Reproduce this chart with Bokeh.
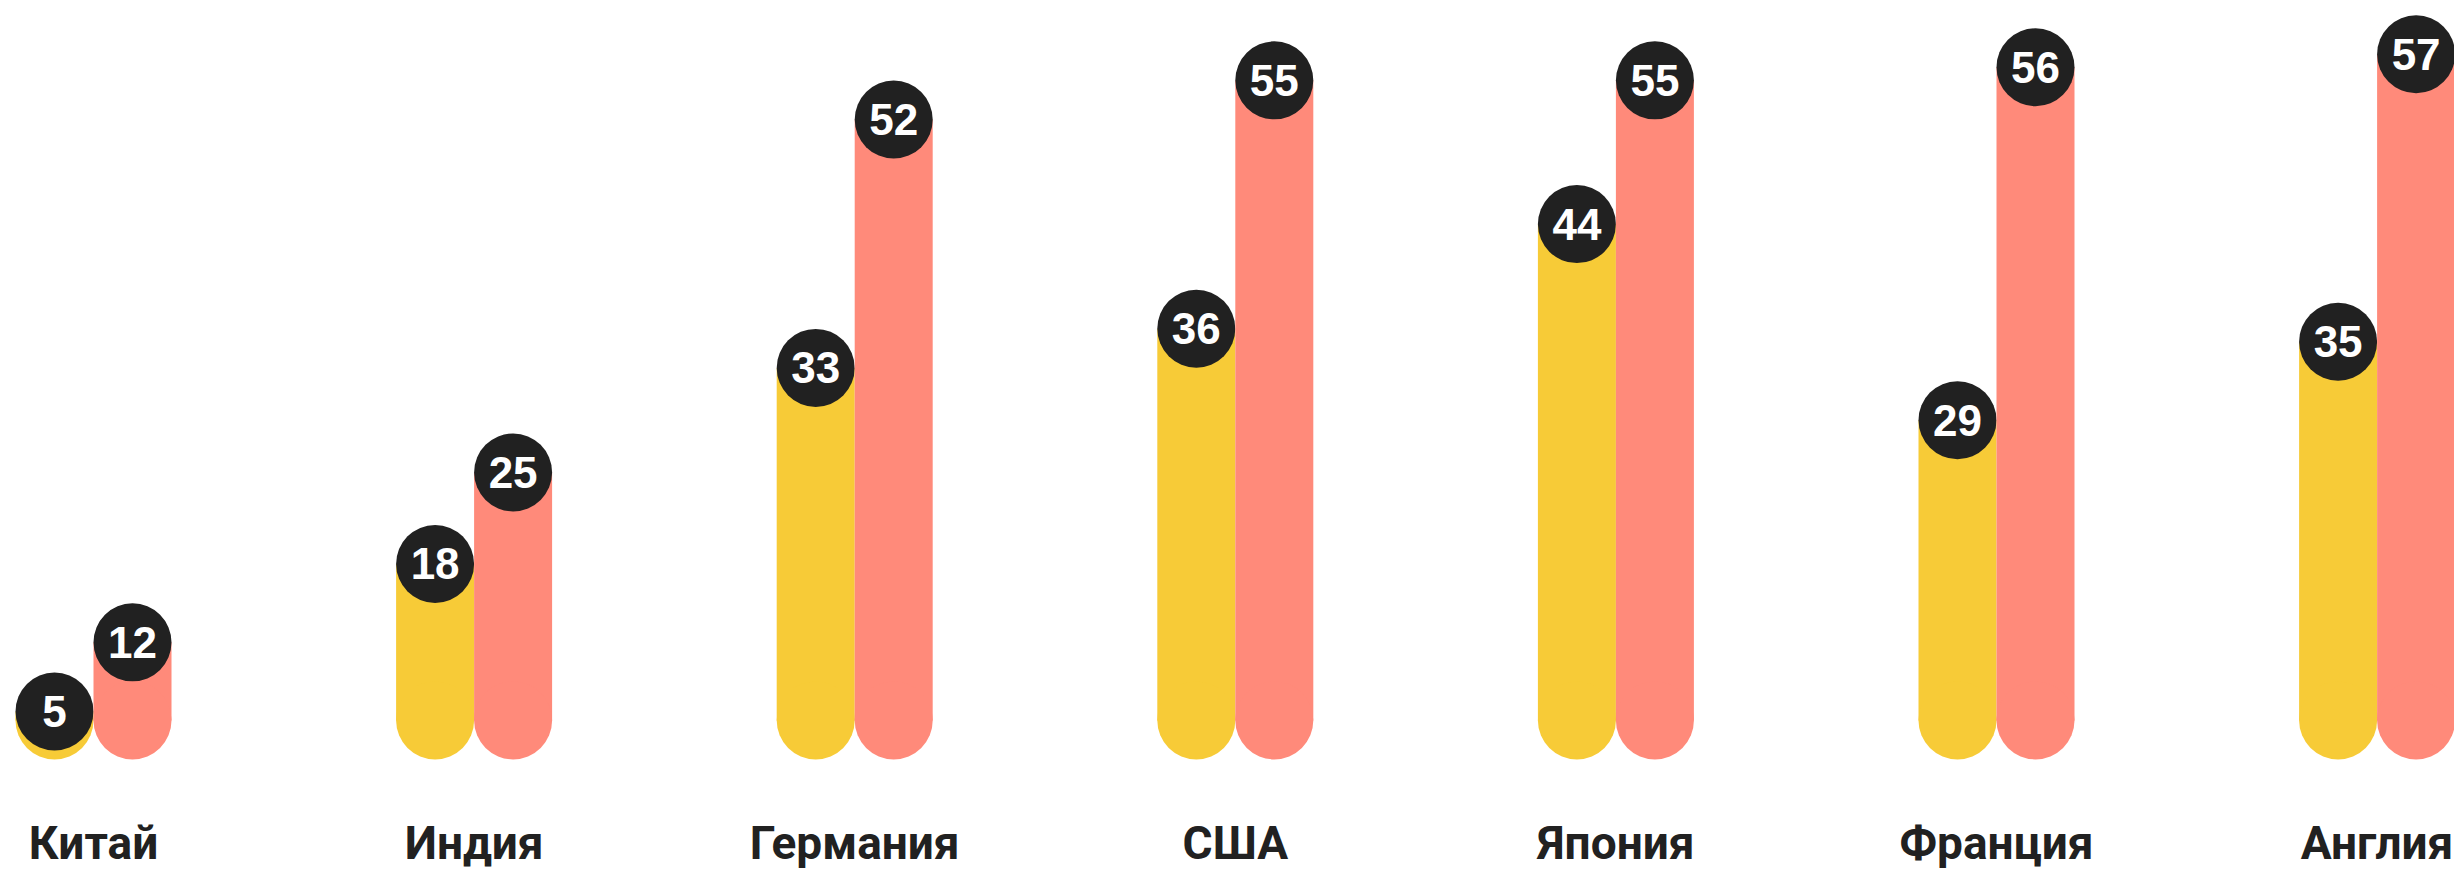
from bokeh.plotting import figure
from bokeh.models import Range1d, ColumnDataSource
from bokeh.core.properties import value
from bokeh.embed import file_html
from bokeh.resources import INLINE

countries = ["Китай", "Индия", "Германия", "США", "Япония", "Франция", "Англия"]
series_yellow = [5, 18, 33, 36, 44, 29, 35]
series_red = [12, 25, 52, 55, 55, 56, 57]

YELLOW = "#F7CB37"
RED = "#FF8A7A"
DARK = "#212121"

W, H = 2454, 870
GROUP_PX = 380.6       # pixels between groups
BAR_PX = 78            # bar width in pixels
PX_PER_UNIT = 13.07    # vertical pixels per value unit

x_start = -93.0 / GROUP_PX
x_end = x_start + W / GROUP_PX
y_end = 798.7 / PX_PER_UNIT
y_start = y_end - H / PX_PER_UNIT

bw = BAR_PX / GROUP_PX
BASE = 6.03      # centre of the rounded bottom cap
MIN_TOP = 6.71   # lowest position of a value badge
LABEL_Y = -3.36  # baseline of the country names

p = figure(width=W, height=H, output_backend="svg", toolbar_location=None,
           x_range=Range1d(x_start, x_end), y_range=Range1d(y_start, y_end),
           min_border=0, outline_line_color=None)
p.axis.visible = False
p.grid.visible = False
p.background_fill_color = "white"
p.border_fill_color = "white"

idx = list(range(len(countries)))
for vals, color, off in ((series_yellow, YELLOW, -bw / 2), (series_red, RED, bw / 2)):
    xs = [i + off for i in idx]
    tops = [max(v, MIN_TOP) for v in vals]
    src = ColumnDataSource(dict(x=xs, top=tops, base=[BASE] * len(xs),
                                label=[str(v) for v in vals]))
    p.vbar(x="x", top="top", bottom="base", width=bw, source=src,
           fill_color=color, line_color=None)
    p.scatter(x="x", y="base", size=BAR_PX, source=src, marker="circle",
              fill_color=color, line_color=None)
    p.scatter(x="x", y="top", size=BAR_PX, source=src, marker="circle",
              fill_color=DARK, line_color=None)
    p.text(x="x", y="top", text="label", source=src, text_color="white",
           text_font=value("Liberation Sans"), text_font_style="bold",
           text_font_size="44px", text_align="center", text_baseline="middle")

lsrc = ColumnDataSource(dict(x=idx, y=[LABEL_Y] * len(idx), t=countries))
p.text(x="x", y="y", text="t", source=lsrc, text_color=DARK,
       text_font=value("Roboto"), text_font_style="bold",
       text_font_size="46px", text_align="center", text_baseline="alphabetic")

open("out.html", "w").write(file_html(p, INLINE))
